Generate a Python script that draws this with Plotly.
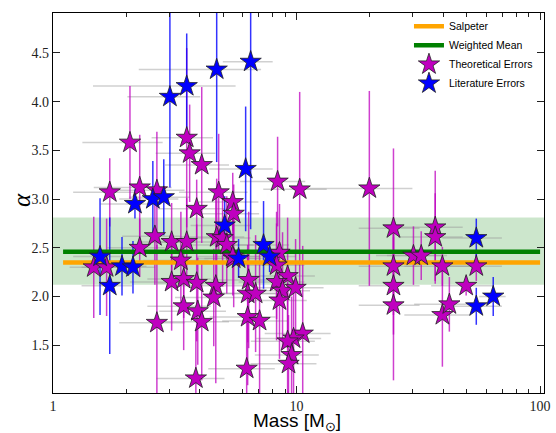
import plotly.graph_objects as go

# Theoretical-error sample (mass, alpha, alpha error, mass error)
theo_mass = [1.47, 1.66, 1.71, 2.07, 2.27, 2.27, 2.67, 2.62, 3.07, 3.54,
             3.35, 3.07, 3.44, 3.89, 3.44, 3.93, 4.08, 2.67, 3.86, 3.54,
             3.64, 4.08, 3.89, 4.79, 5.47, 5.52, 4.70, 4.97, 5.17, 4.66,
             4.57, 5.52, 6.36, 6.30, 6.79, 6.30, 7.05, 6.24, 8.36, 10.3,
             19.9, 8.51, 8.28, 9.19, 8.28, 8.76, 9.91, 8.51, 10.6, 9.72,
             9.19, 9.54, 9.27, 25.0, 25.0, 25.0, 25.0, 30.2, 32.5, 37.1,
             37.1, 39.7, 39.7, 42.4, 49.7, 54.7, 5.47]
theo_alpha = [2.30, 2.30, 3.07, 3.58, 3.12, 2.50, 3.09, 2.62, 2.56, 2.56,
              2.37, 2.15, 2.18, 2.14, 1.90, 1.85, 1.74, 1.73, 1.16, 3.63,
              3.47, 3.35, 2.90, 3.07, 2.97, 2.85, 2.61, 2.60, 2.53, 2.11,
              1.99, 2.39, 2.17, 2.03, 2.03, 1.79, 1.75, 1.26, 3.18, 3.10,
              3.11, 2.45, 2.32, 2.21, 2.15, 2.06, 2.09, 1.96, 1.62, 1.57,
              1.54, 1.40, 1.31, 2.70, 2.31, 2.11, 1.91, 2.42, 2.42, 2.71,
              2.61, 2.31, 1.81, 1.92, 2.11, 2.31, 2.41]
theo_aerr = [0.52, 0.50, 0.35, 0.58, 0.54, 0.30, 0.60, 0.50, 0.40, 0.45,
             0.50, 0.50, 0.40, 0.60, 0.45, 0.55, 0.60, 0.80, 0.50, 0.92,
             0.50, 0.80, 0.30, 0.60, 0.30, 0.30, 0.60, 0.50, 0.50, 1.00,
             0.50, 0.50, 0.70, 0.50, 0.60, 0.70, 0.80, 0.60, 0.46, 1.00,
             1.00, 0.50, 0.55, 0.60, 0.60, 0.60, 0.50, 0.60, 0.90, 0.60,
             0.60, 0.60, 0.50, 0.82, 0.50, 0.50, 0.77, 0.30, 0.25, 0.58,
             0.45, 0.20, 0.53, 0.28, 0.10, 0.15, 0.40]
theo_merr = [0.30, 0.35, 0.50, 0.75, 0.80, 0.60, 0.80, 0.70, 0.80, 1.00,
             1.00, 1.00, 1.00, 1.20, 1.00, 1.20, 1.20, 0.80, 1.20, 1.00,
             1.00, 1.20, 1.20, 1.50, 1.50, 1.50, 1.40, 1.50, 1.50, 1.40,
             1.40, 1.60, 1.90, 1.90, 2.00, 1.90, 2.10, 1.90, 2.50, 3.00,
             10.0, 2.50, 2.50, 2.70, 2.50, 2.60, 3.00, 2.50, 3.20, 2.90,
             2.70, 2.80, 2.80, 7.0, 7.0, 7.0, 7.0, 9.0, 9.0, 11.0,
             11.0, 12.0, 12.0, 12.0, 14.0, 15.0, 1.60]

# Literature-error sample
lit_mass = [1.56, 1.71, 1.92, 2.13, 2.17, 2.57, 2.85, 3.02, 3.54, 4.70,
            6.48, 6.18, 5.07, 5.78, 7.32, 7.75, 54.7, 54.7, 64.2]
lit_alpha = [2.41, 2.11, 2.31, 2.30, 2.95, 3.00, 3.02, 4.05, 4.16, 4.33,
             4.41, 3.31, 2.73, 2.39, 2.53, 2.41, 2.60, 1.90, 2.00]
lit_aerr = [0.60, 0.70, 0.30, 0.27, 0.15, 0.39, 0.39, 0.93, 0.54, 0.95,
            1.72, 0.64, 0.30, 0.20, 0.45, 0.16, 0.20, 0.19, 0.20]
lit_merr = [0.35, 0.40, 0.50, 0.50, 0.60, 0.70, 0.80, 1.00, 2.08, 2.45,
            1.50, 1.80, 1.40, 1.60, 2.00, 2.20, 15.0, 15.0, 8.0]

salpeter = 2.35
weighted_mean = 2.46
band_low, band_high = 2.12, 2.81
line_mass = [1.1, 100]

MAG = "#bf00bf"
fig = go.Figure()

# horizontal (mass) error bars, behind everything
fig.add_trace(go.Scatter(
    x=theo_mass + lit_mass, y=theo_alpha + lit_alpha, mode="markers",
    marker=dict(size=1, opacity=0), showlegend=False, hoverinfo="skip",
    error_x=dict(type="data", array=theo_merr + lit_merr, color="rgba(150,150,150,0.45)",
                 thickness=1.5, width=0)))
# vertical error bars
fig.add_trace(go.Scatter(
    x=theo_mass, y=theo_alpha, mode="markers", marker=dict(size=1, opacity=0),
    showlegend=False, hoverinfo="skip",
    error_y=dict(type="data", array=theo_aerr, color="rgba(191,0,191,0.75)",
                 thickness=1.5, width=0)))
fig.add_trace(go.Scatter(
    x=lit_mass, y=lit_alpha, mode="markers", marker=dict(size=1, opacity=0),
    showlegend=False, hoverinfo="skip",
    error_y=dict(type="data", array=lit_aerr, color="rgba(0,0,255,0.8)",
                 thickness=1.5, width=0)))

fig.add_trace(go.Scatter(x=line_mass, y=[salpeter, salpeter], mode="lines",
                         line=dict(color="orange", width=4.5), name="Salpeter"))
fig.add_trace(go.Scatter(x=line_mass, y=[weighted_mean, weighted_mean], mode="lines",
                         line=dict(color="green", width=4.5), name="Weighted Mean"))

fig.add_trace(go.Scatter(x=theo_mass, y=theo_alpha, mode="markers", name="Theoretical Errors",
                         marker=dict(symbol="star", size=16, color=MAG,
                                     line=dict(color="#222", width=0.8))))
fig.add_trace(go.Scatter(x=lit_mass, y=lit_alpha, mode="markers", name="Literature Errors",
                         marker=dict(symbol="star", size=16, color="blue",
                                     line=dict(color="#222", width=0.8))))

fig.add_shape(type="rect", xref="paper", yref="y", x0=0, x1=1, y0=band_low, y1=band_high,
              fillcolor="rgba(0,128,0,0.2)", line=dict(width=0), layer="below")

tickfont = dict(family="Liberation Serif", size=14, color="#222")
fig.update_xaxes(type="log", range=[0, 2.016], tickvals=[1, 10, 100], ticktext=["1", "10", "100"],
                 ticks="inside", ticklen=7, tickcolor="#222", showline=True, linecolor="black",
                 linewidth=1.2, mirror="ticks", showgrid=False, zeroline=False, tickfont=tickfont,
                 automargin=False,
                 minor=dict(ticks="inside", ticklen=4, tickcolor="#222",
                            tickvals=[2, 3, 4, 5, 6, 7, 8, 9, 20, 30, 40, 50, 60, 70, 80, 90]))
fig.update_yaxes(range=[1.01, 4.91], tickvals=[1.5, 2.0, 2.5, 3.0, 3.5, 4.0, 4.5],
                 ticktext=["1.5", "2.0", "2.5", "3.0", "3.5", "4.0", "4.5"],
                 ticks="inside", ticklen=7, tickcolor="#222", showline=True, linecolor="black",
                 linewidth=1.2, mirror="ticks", showgrid=False, zeroline=False, tickfont=tickfont,
                 automargin=False)

# axis titles
fig.add_annotation(text="Mass [M<sub>⊙</sub>]", xref="paper", yref="paper", x=0.497, y=-0.077,
                   xanchor="center", yanchor="middle", showarrow=False,
                   font=dict(family="Liberation Sans", size=19, color="black"))
fig.add_annotation(text="<i>α</i>", xref="paper", yref="paper", x=-0.063, y=0.508,
                   xanchor="center", yanchor="middle", showarrow=False, textangle=-90,
                   font=dict(family="Liberation Serif", size=25, color="black"))

fig.update_layout(
    width=556, height=433, margin=dict(l=53, r=12, t=13, b=40, autoexpand=False),
    plot_bgcolor="white", paper_bgcolor="white",
    legend=dict(x=0.725, y=1.003, xanchor="left", yanchor="top", bgcolor="rgba(0,0,0,0)",
                font=dict(family="Liberation Sans", size=10.5, color="black"),
                tracegroupgap=0, itemwidth=30),
)
fig.write_html("out.html", config={"displayModeBar": False},
               post_script="document.body.style.margin='0';document.body.style.padding='0';")
